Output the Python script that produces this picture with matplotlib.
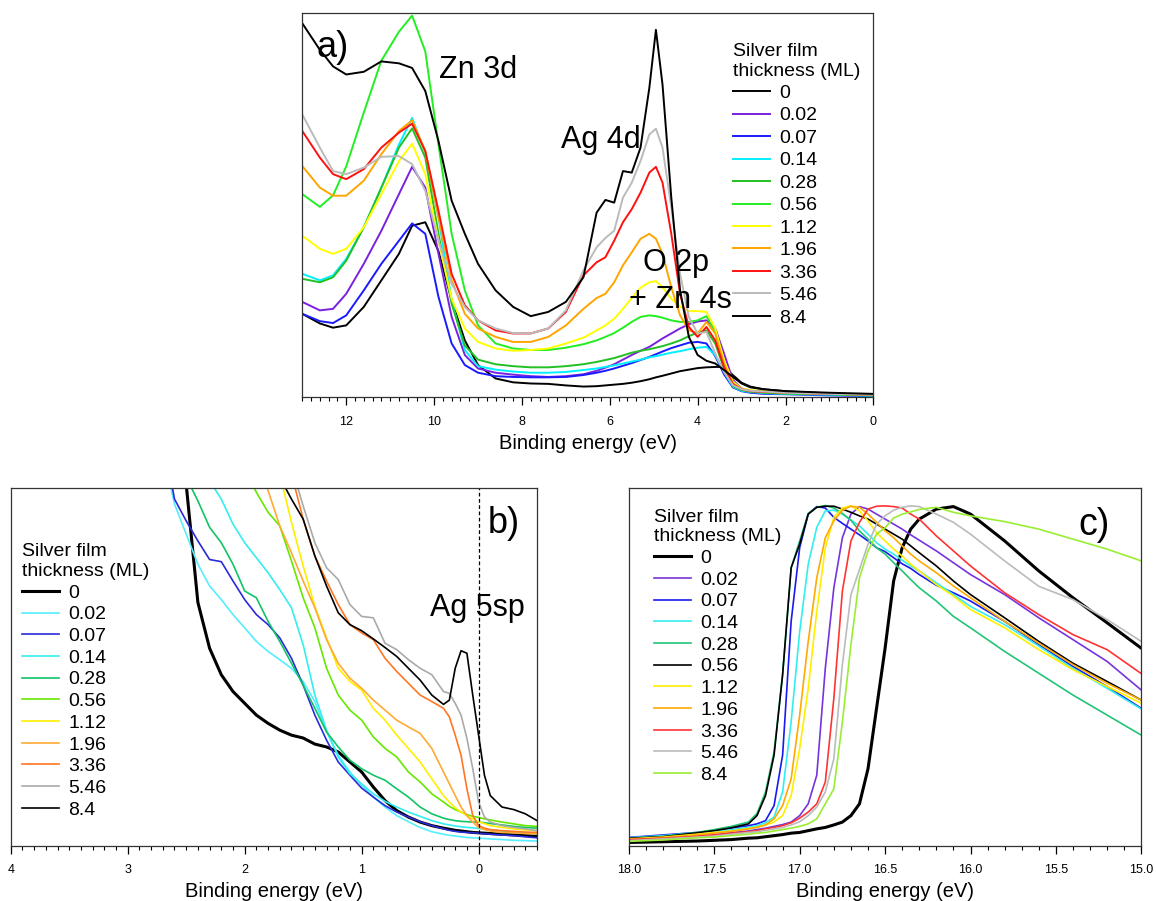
import matplotlib
matplotlib.use("Agg")
import matplotlib.pyplot as plt
from matplotlib.ticker import MultipleLocator, FormatStrFormatter

plt.rcParams["font.family"] = ["Liberation Sans", "DejaVu Sans"]

thickness = ["0", "0.02", "0.07", "0.14", "0.28", "0.56", "1.12", "1.96", "3.36", "5.46", "8.4"]

# panel a: valence band, wide range
a_energy = [13, 12.6, 12.3, 12, 11.6, 11.2, 10.8, 10.5, 10.2, 9.9, 9.6, 9.3, 9.0, 8.6, 8.2, 7.8,
            7.4, 7.0, 6.6, 6.3, 6.1, 5.9, 5.7, 5.5, 5.3, 5.1, 4.95, 4.8, 4.6, 4.4, 4.2, 4.0,
            3.8, 3.6, 3.4, 3.2, 3.0, 2.8, 2.5, 2.0, 1.0, 0]
a_0 = [21.7, 19.2, 18.1, 18.7, 23.5, 30.4, 37.3, 44.6, 45.5, 38.0, 25.2, 14.8, 8.4, 4.9, 3.9, 3.6,
       3.5, 3.1, 2.8, 2.9, 3.1, 3.3, 3.5, 3.8, 4.2, 4.7, 5.2, 5.6, 6.2, 6.8, 7.2, 7.6,
       7.8, 7.9, 7.9, 5.8, 3.8, 2.8, 2.1, 1.6, 1.0, 0.7]
a_002 = [24.8, 22.6, 23.0, 26.9, 34.7, 43.3, 52.8, 59.9, 54.5, 37.3, 20.9, 11.0, 7.5, 6.4, 5.9, 5.5,
         5.3, 5.5, 6.0, 6.9, 7.7, 8.6, 9.8, 11.0, 12.1, 13.1, 14.2, 15.3, 16.6, 17.9, 19.0, 19.7,
         20.0, 17.9, 11.4, 4.5, 2.3, 1.7, 1.3, 1.0, 0.8, 0.5]
a_007 = [21.7, 19.8, 19.3, 21.3, 27.8, 34.7, 40.7, 45.2, 42.5, 26.1, 14.0, 8.4, 6.4, 5.5, 5.3, 5.2,
         5.2, 5.3, 5.8, 6.4, 6.9, 7.5, 8.2, 8.9, 9.7, 10.5, 11.2, 11.9, 12.8, 13.5, 14.2, 14.4,
         14.0, 10.7, 6.0, 2.6, 1.6, 1.2, 0.9, 0.8, 0.5, 0.3]
a_014 = [32.1, 30.4, 31.7, 36.0, 44.2, 54.5, 65.7, 72.6, 63.6, 46.8, 25.2, 12.3, 8.1, 7.2, 6.7, 6.4,
         6.4, 6.6, 7.1, 7.5, 7.9, 8.3, 8.8, 9.3, 9.8, 10.4, 10.7, 11.1, 11.6, 12.0, 12.5, 12.9,
         13.1, 11.0, 6.6, 2.8, 1.7, 1.4, 1.1, 0.9, 0.7, 0.4]
a_028 = [30.8, 29.9, 31.2, 35.5, 44.2, 54.5, 64.9, 69.9, 62.3, 42.5, 24.3, 13.5, 9.8, 8.6, 8.1, 7.8,
         7.8, 8.1, 8.6, 9.2, 9.7, 10.2, 10.9, 11.6, 12.1, 12.5, 12.9, 13.3, 14.0, 14.8, 15.9, 16.8,
         17.4, 14.0, 7.5, 3.0, 1.9, 1.5, 1.2, 1.0, 0.8, 0.5]
a_056 = [52.8, 49.5, 52.5, 60.0, 74.0, 87.5, 95.0, 99.2, 89.9, 65.7, 42.5, 27.8, 18.7, 14.0, 12.7, 12.3,
         12.3, 12.9, 13.8, 14.8, 15.7, 16.7, 18.1, 19.6, 20.9, 21.3, 21.1, 20.7, 20.0, 19.6, 19.6, 20.0,
         21.1, 17.0, 9.0, 3.6, 2.2, 1.7, 1.4, 1.1, 0.9, 0.6]
a_112 = [42.0, 38.6, 37.3, 38.6, 44.2, 52.8, 61.4, 65.9, 58.0, 40.7, 25.6, 17.9, 14.4, 12.7, 12.1, 12.3,
         12.7, 14.0, 15.5, 17.4, 18.7, 20.4, 23.0, 25.8, 28.5, 29.9, 30.2, 28.6, 25.6, 23.6, 22.4, 22.4,
         22.2, 17.9, 9.7, 4.1, 2.3, 1.9, 1.6, 1.3, 1.0, 0.8]
a_196 = [60.1, 54.5, 52.4, 52.4, 56.3, 63.2, 69.2, 72.0, 64.0, 46.8, 30.4, 21.7, 17.9, 15.7, 14.4, 14.4,
         15.7, 18.7, 23.0, 25.8, 26.9, 29.9, 34.3, 37.7, 41.2, 42.5, 41.2, 37.3, 28.6, 21.3, 17.4, 16.6,
         19.6, 16.6, 8.8, 3.6, 2.2, 1.7, 1.5, 1.2, 0.9, 0.7]
a_336 = [69.2, 62.3, 58.0, 56.7, 59.3, 64.9, 68.8, 71.1, 64.0, 48.5, 32.1, 23.9, 20.0, 17.4, 16.6, 16.6,
         17.9, 22.2, 31.7, 35.1, 36.4, 40.7, 45.5, 48.9, 53.2, 58.4, 59.9, 55.8, 42.5, 26.9, 18.3, 15.7,
         18.3, 14.8, 7.9, 3.5, 2.1, 1.6, 1.4, 1.2, 0.9, 0.7]
a_546 = [73.5, 64.9, 58.8, 58.0, 59.7, 62.5, 62.7, 60.6, 53.7, 40.7, 29.5, 23.5, 20.0, 17.9, 16.7, 16.6,
         17.9, 22.6, 33.0, 39.0, 41.4, 43.3, 51.9, 55.8, 61.4, 68.3, 69.8, 64.9, 49.4, 32.1, 20.9, 16.6,
         17.0, 11.4, 6.6, 3.2, 2.1, 1.7, 1.5, 1.2, 0.9, 0.7]
a_84 = [97.2, 90.3, 86.0, 83.9, 84.6, 87.3, 86.8, 85.6, 79.6, 66.6, 51.1, 42.5, 34.7, 27.8, 23.5, 21.1,
        22.2, 24.8, 31.2, 48.0, 51.3, 50.6, 58.8, 58.4, 64.9, 80.4, 95.5, 81.3, 51.9, 27.8, 15.7, 11.0,
        9.5, 8.8, 7.1, 5.3, 3.6, 2.6, 2.1, 1.6, 1.2, 0.9]
a_spectra = [a_0, a_002, a_007, a_014, a_028, a_056, a_112, a_196, a_336, a_546, a_84]

# panel b: near the Fermi level
b_energy = [2.7, 2.6, 2.5, 2.4, 2.3, 2.2, 2.1, 2.0, 1.9, 1.8, 1.7, 1.6, 1.5, 1.4, 1.3, 1.2, 1.1, 1.0,
            0.9, 0.8, 0.7, 0.6, 0.5, 0.4, 0.3, 0.25, 0.2, 0.15, 0.1, 0.05, 0.0, -0.05, -0.1, -0.2,
            -0.3, -0.4, -0.5]
b_0 = [130, 115, 101, 68.0, 55.2, 47.8, 43.1, 39.8, 36.5, 34.2, 32.3, 30.9, 30.1, 28.4, 27.6, 26.2, 23.4, 20.6,
       16.4, 12.6, 9.8, 8.0, 6.6, 5.6, 4.9, 4.6, 4.3, 4.1, 3.9, 3.7, 3.6, 3.5, 3.4, 3.2, 3.0, 2.8, 2.6]
b_002 = [110, 95.5, 87.1, 78.7, 72.6, 68.8, 64.6, 60.9, 57.1, 54.3, 52.0, 49.6, 45.9, 40.3, 31.8, 25.3, 20.6, 16.9,
         13.6, 10.8, 8.4, 6.7, 5.1, 3.9, 3.2, 2.9, 2.7, 2.5, 2.3, 2.2, 2.1, 2.0, 1.9, 1.7, 1.5, 1.4, 1.3]
b_007 = [115, 96.9, 90.8, 85.2, 80.0, 79.4, 74.0, 68.8, 64.6, 61.8, 58.1, 52.4, 44.9, 36.5, 29.5, 23.4, 19.7, 16.1,
         13.6, 11.2, 9.4, 8.0, 6.7, 5.6, 4.7, 4.3, 4.0, 3.8, 3.7, 3.6, 3.5, 3.3, 3.2, 3.0, 2.8, 2.5, 2.2]
b_014 = [140, 125, 115, 108, 102, 96.9, 89.9, 84.7, 80.5, 76.3, 71.6, 66.5, 56.2, 42.1, 32.3, 24.8, 20.1, 17.3,
         14.5, 12.4, 10.8, 9.4, 8.2, 7.0, 6.1, 5.8, 5.5, 5.3, 5.1, 5.0, 4.8, 4.6, 4.4, 4.1, 3.8, 3.6, 3.3]
b_028 = [130, 115, 103, 96.4, 89.0, 84.7, 78.7, 71.2, 69.3, 62.7, 57.1, 51.0, 44.9, 38.4, 31.8, 27.6, 23.9, 21.5,
         19.7, 18.3, 15.9, 13.6, 10.8, 8.9, 7.7, 7.3, 7.0, 6.8, 6.7, 6.6, 6.6, 6.4, 6.2, 5.8, 5.4, 5.1, 4.9]
b_056 = [160, 150, 140, 132, 124, 117, 111, 105, 98.8, 93.2, 89.4, 79.6, 69.3, 60.9, 49.6, 42.1, 37.9, 35.1,
         30.4, 27.2, 24.8, 20.6, 17.8, 14.5, 12.2, 11.0, 10.1, 9.4, 8.7, 8.2, 7.9, 7.5, 7.2, 6.6, 6.1, 5.6, 5.4]
b_112 = [180, 170, 160, 150, 142, 135, 128, 121, 115, 110, 104, 90.4, 78.2, 66.9, 58.1, 49.6, 45.9, 43.5,
         38.4, 35.1, 30.9, 27.2, 23.4, 18.7, 14.0, 12.2, 10.6, 9.4, 8.4, 7.5, 6.7, 6.2, 5.6, 5.1, 4.7, 4.4, 4.2]
b_196 = [170, 160, 150, 142, 134, 127, 120, 114, 108, 99.3, 89.4, 81.9, 74.0, 66.5, 57.6, 51.0, 46.8, 44.0,
         40.7, 37.9, 35.1, 33.2, 31.4, 27.2, 20.6, 17.3, 14.0, 10.8, 8.4, 6.6, 5.1, 4.5, 4.1, 3.7, 3.6, 3.4, 3.3]
b_336 = [190, 180, 170, 160, 150, 140, 132, 125, 118, 112, 107, 104, 91.3, 81.0, 74.0, 67.4, 61.8, 59.5,
         57.6, 52.4, 48.7, 45.4, 42.1, 40.3, 38.4, 36.0, 30.9, 25.3, 15.9, 8.4, 5.6, 4.9, 4.5, 4.2, 4.0, 3.8, 3.7]
b_546 = [200, 190, 180, 170, 160, 150, 140, 130, 122, 115, 110, 106, 95.0, 84.7, 77.7, 74.4, 67.4, 64.1,
         63.7, 56.6, 54.8, 52.0, 49.6, 47.8, 43.1, 42.6, 39.8, 36.5, 30.0, 21.5, 12.2, 8.0, 6.6, 5.6, 5.1, 4.7, 4.2]
b_84 = [190, 180, 170, 160, 150, 140, 132, 124, 117, 110, 103, 96.9, 91.3, 81.0, 72.6, 65.1, 61.8, 60.1,
        57.8, 55.4, 52.9, 49.6, 46.3, 42.1, 39.5, 40.7, 49.6, 54.5, 53.8, 42.1, 30.9, 19.7, 14.0, 10.8, 10.1, 8.9, 7.0]
b_spectra = [b_0, b_002, b_007, b_014, b_028, b_056, b_112, b_196, b_336, b_546, b_84]

# panel c: secondary electron cutoff
c_energy = [18.0, 17.8, 17.6, 17.5, 17.4, 17.3, 17.25, 17.2, 17.15, 17.1, 17.05, 17.0, 16.95, 16.9, 16.85,
            16.8, 16.75, 16.7, 16.65, 16.6, 16.55, 16.5, 16.45, 16.4, 16.35, 16.3, 16.2, 16.1, 16.0,
            15.8, 15.6, 15.4, 15.2, 15.0]
c_0 = [0.9, 1.1, 1.3, 1.5, 1.7, 2.1, 2.2, 2.5, 2.8, 3.1, 3.5, 3.7, 4.2, 4.7, 5.1, 5.8, 6.6, 8.4, 11.7, 21.5,
       38.4, 55.2, 74.0, 83.3, 88.5, 91.3, 94.1, 94.8, 92.7, 85.2, 76.8, 69.3, 62.3, 55.2]
c_002 = [1.4, 1.9, 2.6, 3.0, 3.6, 4.1, 4.5, 4.9, 5.4, 5.9, 6.6, 8.4, 11.7, 19.7, 49.6, 72.1, 86.1, 92.7, 94.8,
         94.1, 92.7, 91.3, 89.9, 88.5, 86.9, 85.4, 82.4, 79.1, 75.8, 70.2, 63.7, 57.6, 51.5, 43.5]
c_007 = [2.3, 3.0, 3.7, 4.2, 4.9, 5.6, 6.1, 7.0, 11.2, 25.3, 62.7, 83.3, 92.7, 94.8, 94.4, 91.8, 90.1, 88.5,
         86.9, 85.2, 83.3, 82.2, 80.5, 78.8, 77.5, 75.8, 72.8, 70.7, 68.4, 62.7, 56.2, 50.1, 44.5, 38.4]
c_014 = [2.2, 2.8, 3.6, 4.0, 4.5, 5.1, 5.6, 6.4, 8.0, 15.0, 34.6, 59.9, 78.7, 89.0, 93.6, 93.8, 92.7, 91.0,
         89.4, 87.1, 84.7, 82.9, 81.5, 79.8, 78.2, 76.8, 73.5, 70.2, 66.9, 61.8, 55.8, 49.6, 44.0, 38.2]
c_028 = [1.9, 2.6, 3.7, 4.5, 5.4, 6.6, 9.0, 15.0, 26.2, 47.8, 77.7, 85.2, 92.9, 94.6, 95.1, 94.4, 92.9, 91.0,
         88.0, 85.7, 83.3, 81.5, 79.1, 76.8, 74.4, 72.1, 68.4, 64.1, 60.9, 54.3, 48.2, 42.1, 36.5, 30.9]
c_056 = [2.1, 2.5, 3.6, 4.2, 5.0, 6.1, 8.4, 14.0, 25.3, 47.8, 77.7, 84.3, 92.7, 94.6, 94.9, 94.9, 94.1, 93.2,
         92.2, 91.3, 89.9, 88.5, 87.1, 85.7, 83.8, 81.9, 78.2, 74.0, 70.2, 63.7, 57.1, 51.0, 45.9, 40.7]
c_112 = [1.9, 2.4, 3.2, 3.7, 4.1, 4.8, 5.2, 5.8, 6.6, 8.4, 14.0, 27.2, 44.0, 65.5, 83.3, 91.8, 94.4, 95.0,
         93.6, 90.8, 87.5, 85.2, 82.9, 81.0, 78.7, 76.8, 73.0, 69.8, 66.0, 60.9, 54.8, 49.2, 44.5, 39.8]
c_196 = [1.7, 2.2, 3.0, 3.5, 4.0, 4.7, 5.1, 5.8, 7.5, 11.2, 18.7, 36.5, 57.1, 74.9, 86.1, 90.8, 93.8, 94.9,
         94.6, 92.7, 90.4, 88.0, 86.1, 83.8, 81.5, 79.6, 76.3, 72.6, 69.3, 62.7, 56.6, 50.6, 45.4, 40.7]
c_336 = [1.7, 2.1, 2.6, 3.0, 3.5, 3.9, 4.2, 4.7, 5.1, 5.6, 6.4, 7.7, 9.4, 11.7, 17.8, 41.2, 71.2, 85.2,
         90.4, 94.1, 94.9, 95.0, 94.8, 94.4, 92.7, 91.3, 86.6, 82.4, 78.2, 70.7, 64.6, 59.0, 54.8, 48.1]
c_546 = [1.4, 1.9, 2.4, 2.7, 3.2, 3.7, 3.9, 4.3, 4.7, 5.1, 5.8, 6.7, 8.4, 10.8, 15.0, 24.3, 50.6, 70.2,
         77.2, 84.3, 89.9, 92.2, 93.8, 94.6, 95.0, 94.8, 92.7, 90.4, 87.1, 79.6, 72.5, 68.8, 63.2, 57.1]
c_84 = [1.2, 1.6, 2.2, 2.4, 2.8, 3.2, 3.5, 3.7, 4.1, 4.5, 4.9, 5.4, 6.1, 7.5, 11.7, 15.9, 34.6, 56.2,
        74.9, 82.4, 87.1, 88.9, 91.6, 92.7, 93.3, 94.0, 94.6, 93.2, 92.2, 90.6, 88.5, 85.7, 82.9, 79.6]
c_spectra = [c_0, c_002, c_007, c_014, c_028, c_056, c_112, c_196, c_336, c_546, c_84]

a_colors = ["black", "#7b1fe0", "#1a1aff", "#00f0ff", "#22c022", "#22ee22",
            "#ffff00", "#ffa500", "#ff1010", "#bbbbbb", "black"]
b_colors = ["black", "#55eeff", "#2a2ad8", "#33eeee", "#11c466", "#66e800",
            "#ffee00", "#ffaa33", "#ff7722", "#aaaaaa", "black"]
c_colors = ["black", "#7733dd", "#1a1aee", "#33eeee", "#22c477", "black",
            "#ffee00", "#ffaa00", "#ff3333", "#bbbbbb", "#99ee33"]


def style_axes(ax, xlim, major, minor, fmt):
    ax.set_xlim(*xlim)
    ax.set_ylim(0, 100)
    ax.set_yticks([])
    ax.xaxis.set_major_locator(MultipleLocator(major))
    ax.xaxis.set_minor_locator(MultipleLocator(minor))
    ax.xaxis.set_major_formatter(FormatStrFormatter(fmt))
    ax.tick_params(axis="x", which="major", direction="out", length=5.5, width=0.9,
                   labelsize=9, pad=8)
    ax.tick_params(axis="x", which="minor", direction="out", length=3, width=0.8)
    for s in ax.spines.values():
        s.set_color("#333333")
        s.set_linewidth(0.9)
    ax.set_xlabel("Binding energy (eV)", fontsize=14.5, labelpad=4)


def add_legend(ax, anchor, spacing):
    leg = ax.legend(title="Silver film\nthickness (ML)", loc="upper left", bbox_to_anchor=anchor,
                    frameon=False, fontsize=14, title_fontsize=14, alignment="left",
                    handlelength=1.9, handletextpad=0.45, labelspacing=spacing,
                    borderpad=0, borderaxespad=0)
    return leg


fig = plt.figure(figsize=(11.56, 9.01), dpi=100)
ax_a = fig.add_axes([0.2615, 0.5590, 0.4940, 0.4271])
ax_b = fig.add_axes([0.0093, 0.0614, 0.4553, 0.3970])
ax_c = fig.add_axes([0.5440, 0.0614, 0.4433, 0.3970])

# a)
for lab, y, col in zip(thickness, a_spectra, a_colors):
    ax_a.plot(a_energy, y, color=col, lw=1.4, label=lab)
style_axes(ax_a, (13, 0), 2, 0.2, "%d")
add_legend(ax_a, (0.755, 0.921), 0.25)
ax_a.text(0.025, 0.908, "a)", transform=ax_a.transAxes, fontsize=26, va="center")
ax_a.text(0.239, 0.851, "Zn 3d", transform=ax_a.transAxes, fontsize=22, va="center")
ax_a.text(0.453, 0.668, "Ag 4d", transform=ax_a.transAxes, fontsize=22, va="center")
ax_a.text(0.596, 0.349, "O 2p", transform=ax_a.transAxes, fontsize=22, va="center")
ax_a.text(0.572, 0.253, "+ Zn 4s", transform=ax_a.transAxes, fontsize=22, va="center")

# b)
for lab, y, col in zip(thickness, b_spectra, b_colors):
    ax_b.plot(b_energy, y, color=col, lw=2.2 if lab == "0" else 1.2, label=lab)
ax_b.axvline(0, color="black", lw=0.9, ls=(0, (3, 2)))
style_axes(ax_b, (4, -0.5), 1, 0.1, "%d")
add_legend(ax_b, (0.022, 0.845), 0.21)
ax_b.text(0.907, 0.902, "b)", transform=ax_b.transAxes, fontsize=26, va="center")
ax_b.text(0.797, 0.665, "Ag 5sp", transform=ax_b.transAxes, fontsize=22, va="center")

# c)
for lab, y, col in zip(thickness, c_spectra, c_colors):
    ax_c.plot(c_energy, y, color=col, lw=2.2 if lab == "0" else 1.2, label=lab)
style_axes(ax_c, (18, 15), 0.5, 0.1, "%.1f")
add_legend(ax_c, (0.050, 0.942), 0.21)
ax_c.text(0.878, 0.897, "c)", transform=ax_c.transAxes, fontsize=27, va="center")

fig.savefig("out.png", dpi=100)
